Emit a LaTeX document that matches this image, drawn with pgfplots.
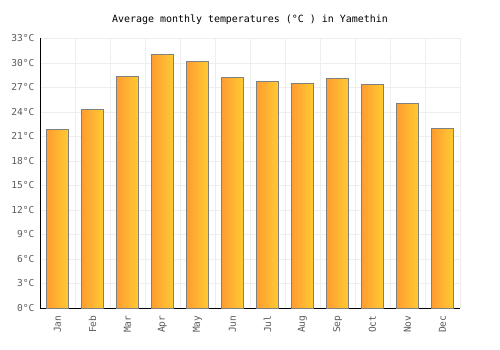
\documentclass[border=0pt]{standalone}
\usepackage{pgfplots}
\pgfplotsset{compat=1.18}
\usepackage{fontspec}
\setmainfont{DejaVu Sans Mono}
\setmonofont{DejaVu Sans Mono}
\definecolor{barL}{RGB}{255,155,48}
\definecolor{barR}{RGB}{255,204,51}
\definecolor{barE}{RGB}{128,128,128}
\definecolor{gridc}{RGB}{238,238,238}
\definecolor{tickc}{RGB}{90,90,90}
\pgfplotsset{onebar/.style={ybar, bar width=22.8bp, bar shift=0pt, draw=barE, line width=0.9pt, left color=barL, right color=barR}}
\begin{document}
\begin{tikzpicture}
\path (0,0) rectangle (500bp,350bp);
\node[font=\fontsize{10}{12}\selectfont, text=black] at (250bp,330.5bp) {Average monthly temperatures (°C ) in Yamethin};
\begin{axis}[
  at={(40bp,42bp)}, anchor=south west, scale only axis,
  width=420bp, height=269.5bp,
  xmin=-0.5, xmax=11.5, ymin=0, ymax=33,
  axis x line*=bottom, axis y line*=left,
  axis line style={-, black, line width=1pt},
  ytick={0,3,...,33},
  yticklabels={0°C,3°C,6°C,9°C,12°C,15°C,18°C,21°C,24°C,27°C,30°C,33°C},
  xtick={0,...,11},
  xticklabels={Jan,Feb,Mar,Apr,May,Jun,Jul,Aug,Sep,Oct,Nov,Dec},
  minor xtick={-0.5,0.5,...,11.5},
  major tick length=0pt, minor tick length=0pt,
  ymajorgrids, xminorgrids,
  grid style={gridc, line width=0.8pt},
  minor grid style={gridc, line width=0.8pt},
  ticklabel style={text=tickc, font=\fontsize{9.6}{11}\selectfont},
  xticklabel style={rotate=90, anchor=east},
  yticklabel style={xshift=-2bp},
  xticklabel shift=4bp,
  clip=false,
]
\addplot[onebar] coordinates {(0,21.9)};
\addplot[onebar] coordinates {(1,24.3)};
\addplot[onebar] coordinates {(2,28.4)};
\addplot[onebar] coordinates {(3,31.1)};
\addplot[onebar] coordinates {(4,30.2)};
\addplot[onebar] coordinates {(5,28.2)};
\addplot[onebar] coordinates {(6,27.75)};
\addplot[onebar] coordinates {(7,27.5)};
\addplot[onebar] coordinates {(8,28.1)};
\addplot[onebar] coordinates {(9,27.4)};
\addplot[onebar] coordinates {(10,25.0)};
\addplot[onebar] coordinates {(11,22.0)};
\end{axis}
\end{tikzpicture}
\end{document}
